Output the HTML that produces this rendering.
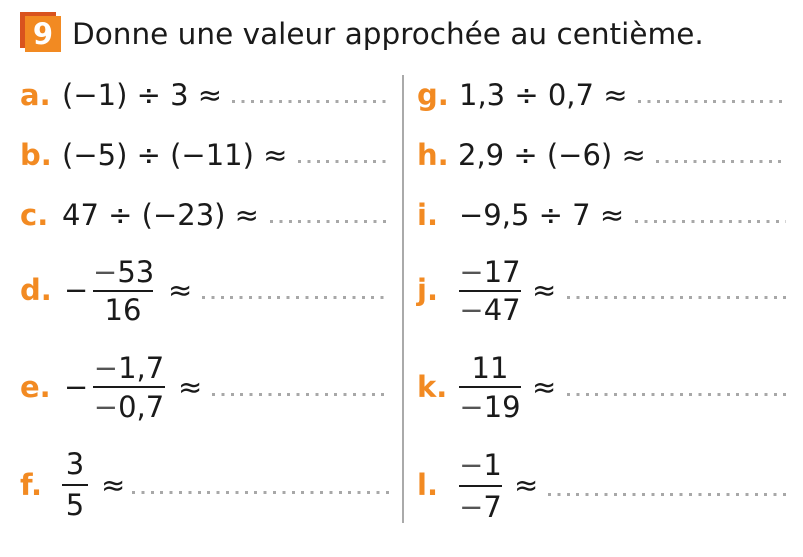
<!DOCTYPE html>
<html><head><meta charset="utf-8"><style>
body{margin:0;width:803px;height:557px;background:#fff;position:relative;overflow:hidden;font-family:"DejaVu Sans","Liberation Sans",sans-serif;color:#1a1a1a}
.t{position:absolute;font-size:29px;line-height:28px;white-space:nowrap}
.l{position:absolute;font-size:29px;line-height:28px;font-weight:bold;color:#f28a22}
.d{position:absolute;height:3px;background:repeating-linear-gradient(90deg,#a8a8a8 0 3px,transparent 3px 9.4px)}
.f{position:absolute;height:2px;background:#1a1a1a}
.c{text-align:center}
.m{color:#555}
</style></head><body>
<div style="position:absolute;left:20px;top:12px;width:36px;height:36px;background:#d9531e"></div>
<div style="position:absolute;left:25px;top:16px;width:36px;height:36px;background:#f28a22;color:#fff;font-weight:bold;font-size:29px;line-height:36px;text-align:center">9</div>
<div class="t" style="left:72px;top:19px;font-size:29.5px;line-height:30px">Donne une valeur approchée au centième.</div>
<div style="position:absolute;left:402px;top:75px;width:2px;height:448px;background:#aaa"></div>

<div class="l" style="left:20px;top:81px">a.</div>
<div class="t" style="left:62px;top:81px">(−1) ÷ 3 ≈</div>
<div class="d" style="left:232px;width:158px;top:100px"></div>
<div class="l" style="left:20px;top:141px">b.</div>
<div class="t" style="left:62px;top:141px">(−5) ÷ (−11) ≈</div>
<div class="d" style="left:298px;width:92px;top:160px"></div>
<div class="l" style="left:20px;top:201px">c.</div>
<div class="t" style="left:62px;top:201px">47 ÷ (−23) ≈</div>
<div class="d" style="left:270px;width:120px;top:220px"></div>

<div class="l" style="left:20px;top:276px">d.</div>
<div class="t" style="left:64px;top:276px">−</div>
<div class="t c" style="left:93px;width:60px;top:258px"><span class="m">−</span>53</div>
<div class="f" style="left:93px;width:60px;top:290px"></div>
<div class="t c" style="left:93px;width:60px;top:296px">16</div>
<div class="t" style="left:168px;top:276px">≈</div>
<div class="d" style="left:202px;width:188px;top:296px"></div>

<div class="l" style="left:20px;top:373px">e.</div>
<div class="t" style="left:64px;top:373px">−</div>
<div class="t c" style="left:93px;width:72px;top:354px"><span class="m">−</span>1,7</div>
<div class="f" style="left:93px;width:72px;top:386px"></div>
<div class="t c" style="left:93px;width:72px;top:393px"><span class="m">−</span>0,7</div>
<div class="t" style="left:178px;top:373px">≈</div>
<div class="d" style="left:212px;width:178px;top:393px"></div>

<div class="l" style="left:20px;top:471px">f.</div>
<div class="t c" style="left:62px;width:26px;top:450px">3</div>
<div class="f" style="left:62px;width:26px;top:484px"></div>
<div class="t c" style="left:62px;width:26px;top:491px">5</div>
<div class="t" style="left:101px;top:471px">≈</div>
<div class="d" style="left:132px;width:258px;top:491px"></div>

<div class="l" style="left:417px;top:81px">g.</div>
<div class="t" style="left:459px;top:81px">1,3 ÷ 0,7 ≈</div>
<div class="d" style="left:638px;width:148px;top:100px"></div>
<div class="l" style="left:417px;top:141px">h.</div>
<div class="t" style="left:458px;top:141px">2,9 ÷ (−6) ≈</div>
<div class="d" style="left:656px;width:130px;top:160px"></div>
<div class="l" style="left:417px;top:201px">i.</div>
<div class="t" style="left:459px;top:201px">−9,5 ÷ 7 ≈</div>
<div class="d" style="left:635px;width:151px;top:220px"></div>

<div class="l" style="left:417px;top:276px">j.</div>
<div class="t c" style="left:459px;width:62px;top:258px"><span class="m">−</span>17</div>
<div class="f" style="left:459px;width:62px;top:290px"></div>
<div class="t c" style="left:459px;width:62px;top:296px"><span class="m">−</span>47</div>
<div class="t" style="left:532px;top:276px">≈</div>
<div class="d" style="left:567px;width:219px;top:296px"></div>

<div class="l" style="left:417px;top:373px">k.</div>
<div class="t c" style="left:459px;width:62px;top:354px">11</div>
<div class="f" style="left:459px;width:62px;top:386px"></div>
<div class="t c" style="left:459px;width:62px;top:393px"><span class="m">−</span>19</div>
<div class="t" style="left:532px;top:373px">≈</div>
<div class="d" style="left:567px;width:219px;top:393px"></div>

<div class="l" style="left:417px;top:471px">l.</div>
<div class="t c" style="left:459px;width:43px;top:451px"><span class="m">−</span>1</div>
<div class="f" style="left:459px;width:43px;top:485px"></div>
<div class="t c" style="left:459px;width:43px;top:493px"><span class="m">−</span>7</div>
<div class="t" style="left:514px;top:471px">≈</div>
<div class="d" style="left:548px;width:238px;top:493px"></div>
</body></html>
